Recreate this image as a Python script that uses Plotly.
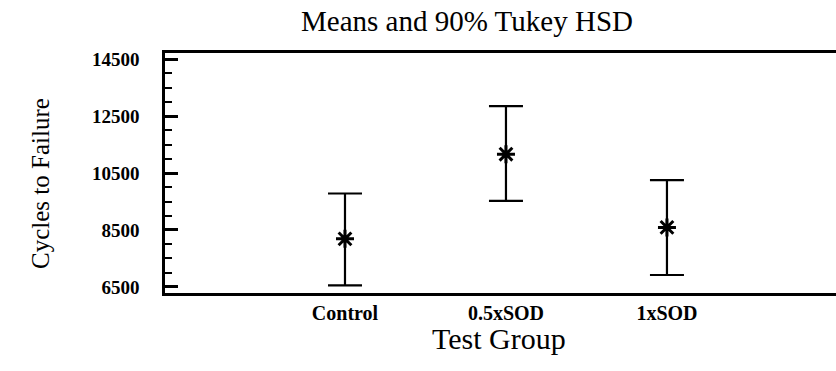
import plotly.graph_objects as go

# Group means with 90% Tukey HSD interval bounds (cycles to failure)
groups = ["Control", "0.5xSOD", "1xSOD"]
means = [8190, 11160, 8590]
lower = [6560, 9520, 6920]
upper = [9780, 12845, 10250]

y_ticks = [6500, 8500, 10500, 12500, 14500]

err_plus = [u - m for u, m in zip(upper, means)]
err_minus = [m - l for m, l in zip(means, lower)]

serif = "Liberation Serif, Times New Roman, serif"

fig = go.Figure()
fig.add_trace(go.Scatter(
    x=groups,
    y=means,
    mode="markers",
    marker=dict(symbol="asterisk-open", size=15, color="black",
                line=dict(color="black", width=3)),
    error_y=dict(type="data", symmetric=False, array=err_plus,
                 arrayminus=err_minus, color="black", thickness=2.2, width=17),
    showlegend=False,
    hoverinfo="skip",
))

fig.update_layout(
    width=836,
    height=371,
    margin=dict(l=165, r=0, t=53, b=78),
    paper_bgcolor="white",
    plot_bgcolor="white",
    font=dict(family=serif, color="black"),
    title=dict(text="Means and 90% Tukey HSD", x=467 / 836, xref="container",
               xanchor="center", y=1 - 21 / 371, yanchor="middle",
               font=dict(family=serif, size=29, color="black")),
    annotations=[
        dict(text="Test Group", xref="paper", yref="paper",
             x=(499 - 165) / 671, y=(293 - 338) / 240,
             xanchor="center", yanchor="middle", showarrow=False,
             font=dict(family=serif, size=30, color="black")),
        dict(text="Cycles to Failure", xref="paper", yref="paper",
             x=(40 - 165) / 671, y=(293 - 184) / 240, textangle=-90,
             xanchor="center", yanchor="middle", showarrow=False,
             font=dict(family=serif, size=25, color="black")),
    ],
)

fig.update_xaxes(
    type="category",
    range=[-1.118, 3.05],
    showgrid=False,
    zeroline=False,
    showline=True,
    linecolor="black",
    linewidth=2.5,
    mirror=True,
    ticks="",
    tickfont=dict(family=serif, size=20, color="black", weight="bold"),
    ticklabelstandoff=0,
)

fig.update_yaxes(
    range=[6289, 14711],
    tickvals=y_ticks,
    ticktext=[str(v) for v in y_ticks],
    showgrid=False,
    zeroline=False,
    showline=True,
    linecolor="black",
    linewidth=2.5,
    ticks="inside",
    ticklen=13,
    tickwidth=2.5,
    tickcolor="black",
    minor=dict(dtick=500, tick0=6500, ticks="inside", ticklen=7,
               tickwidth=2, tickcolor="black", showgrid=False),
    tickfont=dict(family=serif, size=19, color="black", weight="bold"),
    ticklabelstandoff=19,
)

fig.write_html("out.html")
